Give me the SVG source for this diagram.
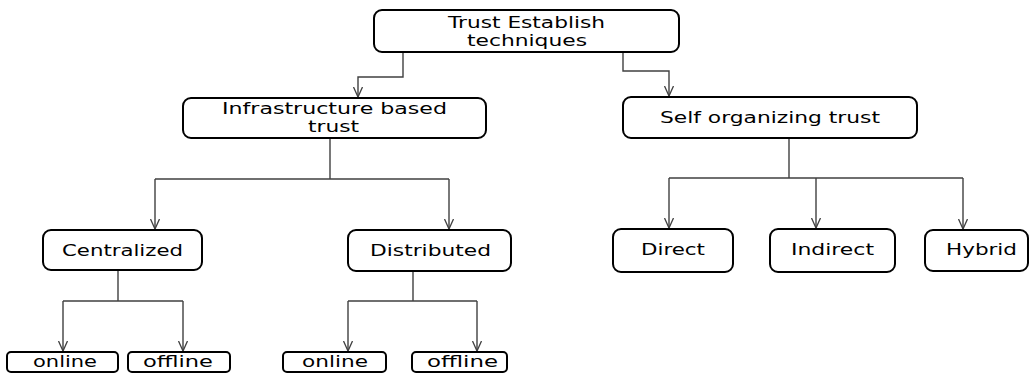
<svg xmlns="http://www.w3.org/2000/svg" width="1030" height="373" viewBox="0 0 1030 373">
  <style>
    .box { fill: #ffffff; stroke: #000000; stroke-width: 2; }
    .lbl { font-family: "DejaVu Sans", "Liberation Sans", sans-serif; font-size: 16.5px; fill: #000000; }
    .wire { fill: none; stroke: #404040; stroke-width: 1.4; }
  </style>
  <defs>
    <marker id="arrow" viewBox="0 0 10 10" refX="10" refY="5" markerWidth="10" markerHeight="10" markerUnits="userSpaceOnUse" orient="auto">
      <path d="M0,0.5 L10,5 L0,9.5" fill="none" stroke="#404040" stroke-width="1.3"/>
    </marker>
  </defs>

  <rect width="1030" height="373" fill="#ffffff"/>

  <!-- connectors -->
  <g id="connectors" class="wire">
    <path d="M403 52 V77 H358 V97" marker-end="url(#arrow)"/>
    <path d="M623 52 V71 H669 V96" marker-end="url(#arrow)"/>

    <path d="M330 138 V179 M155 179 H449"/>
    <path d="M155 179 V229" marker-end="url(#arrow)"/>
    <path d="M449 179 V229" marker-end="url(#arrow)"/>

    <path d="M118 270 V301 M63 301 H183"/>
    <path d="M63 301 V351" marker-end="url(#arrow)"/>
    <path d="M183 301 V351" marker-end="url(#arrow)"/>

    <path d="M413 271 V301 M348 301 H477"/>
    <path d="M348 301 V351" marker-end="url(#arrow)"/>
    <path d="M477 301 V351" marker-end="url(#arrow)"/>

    <path d="M789 138 V178 M669 178 H963"/>
    <path d="M669 178 V228" marker-end="url(#arrow)"/>
    <path d="M816 178 V228" marker-end="url(#arrow)"/>
    <path d="M963 178 V229" marker-end="url(#arrow)"/>
  </g>

  <!-- nodes -->
  <g id="trust-establish">
    <rect class="box" x="374" y="10" width="305" height="42" rx="8"/>
    <text class="lbl" x="448" y="28" textLength="157" lengthAdjust="spacingAndGlyphs">Trust Establish</text>
    <text class="lbl" x="467" y="46" textLength="120" lengthAdjust="spacingAndGlyphs">techniques</text>
  </g>

  <g id="infrastructure">
    <rect class="box" x="183" y="98" width="303" height="40" rx="8"/>
    <text class="lbl" x="222" y="114" textLength="225" lengthAdjust="spacingAndGlyphs">Infrastructure based</text>
    <text class="lbl" x="308" y="132" textLength="51" lengthAdjust="spacingAndGlyphs">trust</text>
  </g>

  <g id="self-organizing">
    <rect class="box" x="623" y="97" width="294" height="41" rx="8"/>
    <text class="lbl" x="660" y="123" textLength="220" lengthAdjust="spacingAndGlyphs">Self organizing trust</text>
  </g>

  <g id="centralized">
    <rect class="box" x="43" y="230" width="159" height="40" rx="8"/>
    <text class="lbl" x="62" y="256" textLength="121" lengthAdjust="spacingAndGlyphs">Centralized</text>
  </g>

  <g id="distributed">
    <rect class="box" x="348" y="230" width="163" height="41" rx="8"/>
    <text class="lbl" x="370" y="256" textLength="121" lengthAdjust="spacingAndGlyphs">Distributed</text>
  </g>

  <g id="direct">
    <rect class="box" x="613" y="229" width="120" height="43" rx="8"/>
    <text class="lbl" x="641" y="255" textLength="64" lengthAdjust="spacingAndGlyphs">Direct</text>
  </g>

  <g id="indirect">
    <rect class="box" x="770" y="229" width="125" height="43" rx="8"/>
    <text class="lbl" x="791" y="255" textLength="83" lengthAdjust="spacingAndGlyphs">Indirect</text>
  </g>

  <g id="hybrid">
    <rect class="box" x="925" y="230" width="103" height="41" rx="8"/>
    <text class="lbl" x="946" y="255" textLength="71" lengthAdjust="spacingAndGlyphs">Hybrid</text>
  </g>

  <g id="centralized-online">
    <rect class="box" x="7" y="352" width="111" height="20" rx="4"/>
    <text class="lbl" x="33" y="367" textLength="64" lengthAdjust="spacingAndGlyphs">online</text>
  </g>

  <g id="centralized-offline">
    <rect class="box" x="128" y="352" width="102" height="20" rx="4"/>
    <text class="lbl" x="143" y="367" textLength="70" lengthAdjust="spacingAndGlyphs">offline</text>
  </g>

  <g id="distributed-online">
    <rect class="box" x="283" y="352" width="103" height="20" rx="4"/>
    <text class="lbl" x="302" y="367" textLength="66" lengthAdjust="spacingAndGlyphs">online</text>
  </g>

  <g id="distributed-offline">
    <rect class="box" x="412" y="352" width="95" height="20" rx="4"/>
    <text class="lbl" x="427" y="367" textLength="71" lengthAdjust="spacingAndGlyphs">offline</text>
  </g>
</svg>
